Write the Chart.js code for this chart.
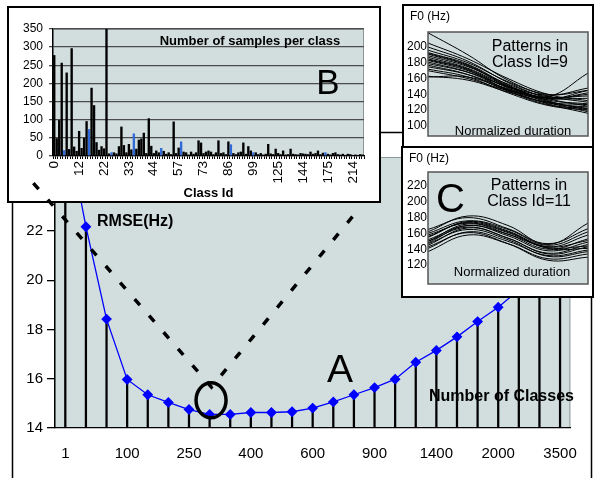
<!DOCTYPE html>
<html>
<head>
<meta charset="utf-8">
<script src="https://cdn.jsdelivr.net/npm/chart.js@4.4.0/dist/chart.umd.min.js"></script>
<style>
  body { margin: 0; background: #fff; }
  #wrap { position: relative; width: 594px; height: 478px; overflow: hidden; background: #fff; }
  canvas { position: absolute; display: block; }
</style>
</head>
<body>
<div id="wrap">
  <canvas id="mainChart" width="594" height="478" style="left:0;top:0;width:594px;height:478px"></canvas>
  <canvas id="samplesChart" width="374" height="197" style="left:7px;top:6px;width:374px;height:197px"></canvas>
  <canvas id="class9Chart" width="192" height="144" style="left:402px;top:4px;width:192px;height:144px"></canvas>
  <canvas id="class11Chart" width="193" height="152" style="left:401px;top:146px;width:193px;height:152px"></canvas>
  <canvas id="guideLayer" width="594" height="478" style="left:0;top:0;width:594px;height:478px;pointer-events:none"></canvas>
</div>
<script>
// ---- A: RMSE vs number of classes
const classCounts = ['1', '50', '75', '100', '150', '200', '250', '300', '350', '400', '450', '500', '600',
                     '700', '800', '900', '1000', '1200', '1400', '1600', '1800', '2000', '2500', '3000', '3500'];
const rmse = [26.5, 22.17, 18.42, 15.97, 15.35, 15.04, 14.75, 14.55, 14.55, 14.63, 14.63, 14.66, 14.81,
              15.06, 15.35, 15.64, 15.98, 16.67, 17.15, 17.70, 18.32, 18.90, 19.6, 20.4, 21.3];
const rmseTicks = [14, 16, 18, 20, 22, 24];
// dashed "V" guide, in (category index, RMSE) units
const guideIdx = [-1.55, 7.09, 14.2];
const guideVal = [23.94, 15.66, 22.85];

// ---- B: number of samples per class
const classIds = [0, 1, 2, 3, 4, 5, 6, 8, 9, 11, 12,
  13, 14, 15, 16, 17, 18, 19, 20, 21, 22,
  23, 24, 25, 26, 27, 28, 29, 31, 32, 33,
  34, 35, 36, 37, 38, 39, 40, 41, 43, 44,
  45, 46, 48, 49, 50, 51, 53, 54, 56, 57,
  59, 60, 62, 63, 65, 66, 68, 69, 71, 73,
  74, 75, 77, 78, 79, 80, 82, 83, 85, 86,
  87, 88, 90, 91, 92, 93, 95, 96, 98, 99,
  101, 104, 106, 108, 111, 114, 117, 119, 122, 125,
  126, 128, 130, 132, 134, 136, 138, 140, 142, 144,
  146, 149, 152, 155, 158, 161, 164, 167, 171, 175,
  178, 182, 186, 190, 194, 198, 202, 206, 210, 214,
  219, 225, 232, 240];
const samples = [278, 49, 99, 257, 16, 230, 19, 297, 26, 14, 69,
  22, 50, 96, 74, 188, 140, 38, 17, 27, 21,
  352, 7, 10, 10, 7, 27, 81, 30, 10, 33,
  18, 62, 20, 45, 48, 64, 8, 104, 28, 8,
  15, 10, 22, 14, 6, 10, 5, 95, 8, 23,
  40, 12, 10, 4, 12, 6, 10, 43, 37, 8,
  12, 15, 12, 5, 10, 43, 8, 10, 5, 40,
  32, 8, 5, 10, 12, 37, 6, 27, 15, 10,
  10, 5, 8, 4, 6, 33, 7, 5, 20, 8,
  5, 15, 4, 5, 20, 6, 5, 4, 8, 7,
  6, 5, 12, 6, 8, 15, 5, 9, 10, 6,
  4, 8, 10, 5, 4, 6, 3, 6, 5, 3,
  4, 3, 5, 4];
const markedClasses = [4, 16, 25, 35, 48, 59, 87, 99, 171];
const sampleTicks = [0, 50, 100, 150, 200, 250, 300, 350];

// ---- C: F0 patterns (Hz) over normalized duration
const durationPts = [0, 0.25, 0.5, 0.75, 1];
const class9Curves = [
  [218, 190, 158, 140, 145],
  [205, 185, 160, 140, 132],
  [200, 182, 155, 135, 125],
  [196, 180, 156, 138, 130],
  [193, 178, 152, 132, 120],
  [191, 176, 150, 131, 122],
  [189, 175, 153, 137, 138],
  [187, 173, 150, 133, 128],
  [185, 172, 148, 130, 118],
  [183, 170, 149, 136, 140],
  [181, 168, 146, 128, 116],
  [179, 168, 150, 139, 148],
  [177, 165, 144, 127, 122],
  [175, 165, 147, 135, 135],
  [172, 162, 142, 126, 120],
  [170, 160, 145, 137, 167],
  [163, 158, 143, 130, 127],
  [162, 162, 146, 134, 142],
  [184, 171, 145, 129, 124],
  [192, 177, 151, 135, 145]
];
const class9Ticks = [100, 120, 140, 160, 180, 200];
const class11Curves = [
  [162, 182, 170, 146, 173],
  [165, 180, 166, 147, 166],
  [155, 175, 163, 143, 158],
  [150, 172, 159, 140, 153],
  [148, 170, 157, 138, 149],
  [145, 167, 154, 135, 146],
  [152, 170, 159, 142, 144],
  [158, 173, 161, 141, 141],
  [141, 162, 150, 132, 139],
  [137, 158, 147, 128, 134],
  [147, 165, 152, 131, 137],
  [160, 176, 165, 145, 162],
  [143, 161, 147, 126, 130],
  [150, 168, 154, 134, 143],
  [156, 174, 162, 143, 151]
];
const class11Ticks = [120, 140, 160, 180, 200, 220];

const FONT = '"Liberation Sans", Arial, sans-serif';
const PLOT_BG = '#d2dede';
Chart.defaults.font.family = FONT;
Chart.defaults.color = '#000';
Chart.defaults.animation = false;
Chart.defaults.responsive = false;
Chart.defaults.plugins.legend.display = false;
Chart.defaults.plugins.tooltip.enabled = false;

function text(ctx, str, x, y, font, align) {
  ctx.font = font;
  ctx.textAlign = align || 'center';
  ctx.textBaseline = 'middle';
  ctx.fillStyle = '#000';
  ctx.fillText(str, x, y);
}

// ---------- main chart A
const mainDecor = {
  id: 'mainDecor',
  beforeDraw(chart) {
    const { ctx, chartArea: a } = chart;
    ctx.save();
    ctx.fillStyle = '#fff';
    ctx.fillRect(0, 0, chart.width, chart.height);
    ctx.strokeStyle = '#000';
    ctx.lineWidth = 1.5;
    ctx.beginPath();
    ctx.moveTo(12.5, chart.height);
    ctx.lineTo(12.5, 132.5);
    ctx.lineTo(591.5, 132.5);
    ctx.lineTo(591.5, chart.height);
    ctx.stroke();
    ctx.fillStyle = PLOT_BG;
    ctx.fillRect(a.left, a.top, a.width, a.height);
    ctx.strokeStyle = '#8c9898';
    ctx.lineWidth = 1;
    ctx.strokeRect(a.left + 0.5, a.top + 0.5, a.width - 1, a.height - 1);
    ctx.restore();
  },
  afterDatasetsDraw(chart) {
    const { ctx, scales: { x, y } } = chart;
    ctx.save();
    ctx.strokeStyle = '#000';
    ctx.lineWidth = 3.5;
    ctx.beginPath();
    ctx.ellipse(x.getPixelForValue(7.07), y.getPixelForValue(15.13), 15, 17.5, 0, 0, Math.PI * 2);
    ctx.stroke();
    text(ctx, 'A', 340, 371, '39px ' + FONT);
    text(ctx, 'RMSE(Hz)', 97, 222, 'bold 16px ' + FONT, 'left');
    text(ctx, 'Number of Classes', 429, 397, 'bold 16px ' + FONT, 'left');
    ctx.restore();

    // the dashed V sits above the insets, so it goes on the top layer
    const g = document.getElementById('guideLayer').getContext('2d');
    g.clearRect(0, 0, 594, 478);
    g.strokeStyle = '#000';
    g.lineWidth = 3.5;
    g.setLineDash([8, 14]);
    g.beginPath();
    guideIdx.forEach((gi, i) => {
      const px = x.getPixelForValue(gi), py = y.getPixelForValue(guideVal[i]);
      if (i) g.lineTo(px, py); else g.moveTo(px, py);
    });
    g.stroke();
  }
};

new Chart(document.getElementById('mainChart'), {
  data: {
    labels: classCounts,
    datasets: [
      {
        type: 'line', data: rmse, borderColor: '#0000ff', borderWidth: 1.3,
        pointStyle: 'rectRot', pointRadius: 4.5, pointBackgroundColor: '#0000ff',
        pointBorderColor: '#0000ff', tension: 0, order: 0
      },
      { type: 'bar', data: rmse, backgroundColor: '#000', barThickness: 1.6, order: 1 }
    ]
  },
  options: {
    layout: { padding: { left: 0, top: 157, right: 13, bottom: 0 } },
    scales: {
      x: {
        offset: true,
        grid: { display: false, drawTicks: false },
        border: { color: '#000', width: 1.3 },
        afterFit: s => { s.height = 50; },
        ticks: {
          autoSkip: false, maxRotation: 0, padding: 17, font: { size: 15 },
          callback: (v, i) => (i % 3 === 0 ? classCounts[i] : '')
        }
      },
      y: {
        min: 14, max: 25,
        afterBuildTicks: s => { s.ticks = rmseTicks.map(v => ({ value: v })); },
        afterFit: s => { s.width = 55; },
        grid: { drawOnChartArea: false, tickLength: 8, color: '#000', lineWidth: 1.3 },
        border: { color: '#000', width: 1.3 },
        ticks: { padding: 4, font: { size: 15 } }
      }
    }
  },
  plugins: [mainDecor]
});

// ---------- inset B
const samplesDecor = {
  id: 'samplesDecor',
  beforeDraw(chart) {
    const { ctx, chartArea: a } = chart;
    ctx.save();
    ctx.fillStyle = '#fff';
    ctx.fillRect(0, 0, chart.width, chart.height);
    ctx.fillStyle = PLOT_BG;
    ctx.fillRect(a.left, a.top, a.width, a.height);
    ctx.strokeStyle = '#8c9898';
    ctx.lineWidth = 1;
    ctx.strokeRect(a.left + 0.5, a.top + 0.5, a.width - 1, a.height - 1);
    ctx.restore();
  },
  afterDraw(chart) {
    const { ctx } = chart;
    ctx.save();
    text(ctx, 'Number of samples per class', 243, 35, 'bold 13px ' + FONT);
    text(ctx, 'B', 321, 78, '35px ' + FONT);
    ctx.strokeStyle = '#000';
    ctx.lineWidth = 2;
    ctx.strokeRect(1, 1, chart.width - 2, chart.height - 2);
    ctx.restore();
  }
};

new Chart(document.getElementById('samplesChart'), {
  type: 'bar',
  data: {
    labels: classIds.map(String),
    datasets: [{
      data: samples,
      backgroundColor: c => (markedClasses.includes(classIds[c.dataIndex]) ? '#2f6ad6' : '#000'),
      borderWidth: 0,
      barPercentage: 0.95, categoryPercentage: 1
    }]
  },
  options: {
    layout: { padding: { left: 0, top: 23, right: 11, bottom: 0 } },
    scales: {
      x: {
        grid: { drawOnChartArea: false, tickLength: 3, color: '#000' },
        border: { color: '#000', width: 1.3 },
        afterFit: s => { s.height = 47; },
        ticks: {
          autoSkip: false, minRotation: 90, maxRotation: 90, padding: 2, font: { size: 13.5 },
          callback: (v, i) => (i % 10 === 0 ? String(classIds[i]) : '')
        },
        title: { display: true, text: 'Class Id', font: { size: 13, weight: 'bold' }, padding: { top: 0, bottom: 2 } }
      },
      y: {
        min: 0, max: 350,
        afterBuildTicks: s => { s.ticks = sampleTicks.map(v => ({ value: v })); },
        afterFit: s => { s.width = 46; },
        grid: { color: '#4c4c4c', lineWidth: 1.3, tickLength: 4 },
        border: { color: '#000', width: 1.3 },
        ticks: { padding: 6, font: { size: 12 } }
      }
    }
  },
  plugins: [samplesDecor]
});

// ---------- insets C
function patternChart(id, curves, yTicks, yMin, yMax, pad, title, label, bigC) {
  const decor = {
    id: 'patternDecor',
    beforeDraw(chart) {
      const { ctx, chartArea: a } = chart;
      ctx.save();
      ctx.fillStyle = '#fff';
      ctx.fillRect(0, 0, chart.width, chart.height);
      ctx.fillStyle = PLOT_BG;
      ctx.fillRect(a.left, a.top, a.width, a.height);
      ctx.restore();
    },
    afterDatasetsDraw(chart) {
      const { ctx, chartArea: a } = chart;
      ctx.save();
      ctx.strokeStyle = '#555';
      ctx.lineWidth = 1.5;
      ctx.strokeRect(a.left, a.top, a.width, a.height);
      text(ctx, 'F0 (Hz)', 8, 13, '12px ' + FONT, 'left');
      text(ctx, title[0], 128, label.y1, '16px ' + FONT);
      text(ctx, title[1], 128, label.y2, '16px ' + FONT);
      text(ctx, 'Normalized duration', 111, label.y3, '13px ' + FONT);
      if (bigC) text(ctx, 'C', 49.5, 55, '40px ' + FONT);
      ctx.strokeStyle = '#000';
      ctx.lineWidth = 2;
      ctx.strokeRect(1, 1, chart.width - 2, chart.height - 2);
      ctx.restore();
    }
  };
  new Chart(document.getElementById(id), {
    type: 'line',
    data: {
      datasets: curves.map(c => ({
        data: c.map((v, i) => ({ x: durationPts[i], y: v })),
        borderColor: '#000', borderWidth: 1, pointRadius: 0, tension: 0.4
      }))
    },
    options: {
      layout: { padding: pad },
      scales: {
        x: { type: 'linear', min: 0, max: 1, display: false },
        y: {
          min: yMin, max: yMax,
          afterBuildTicks: s => { s.ticks = yTicks.map(v => ({ value: v })); },
          afterFit: s => { s.width = pad.axis; },
          grid: { display: false, drawTicks: false },
          border: { display: false },
          ticks: { padding: 1, font: { size: 12 } }
        }
      }
    },
    plugins: [decor]
  });
}

patternChart('class9Chart', class9Curves, class9Ticks, 87.3, 219,
  { left: 0, top: 28, right: 6, bottom: 12, axis: 26 },
  ['Patterns in', 'Class Id=9'], { y1: 43, y2: 59, y3: 127 }, false);
patternChart('class11Chart', class11Curves, class11Ticks, 96, 237.7,
  { left: 0, top: 26, right: 6, bottom: 14, axis: 27 },
  ['Patterns in', 'Class Id=11'], { y1: 39.5, y2: 56, y3: 126 }, true);
</script>
</body>
</html>
